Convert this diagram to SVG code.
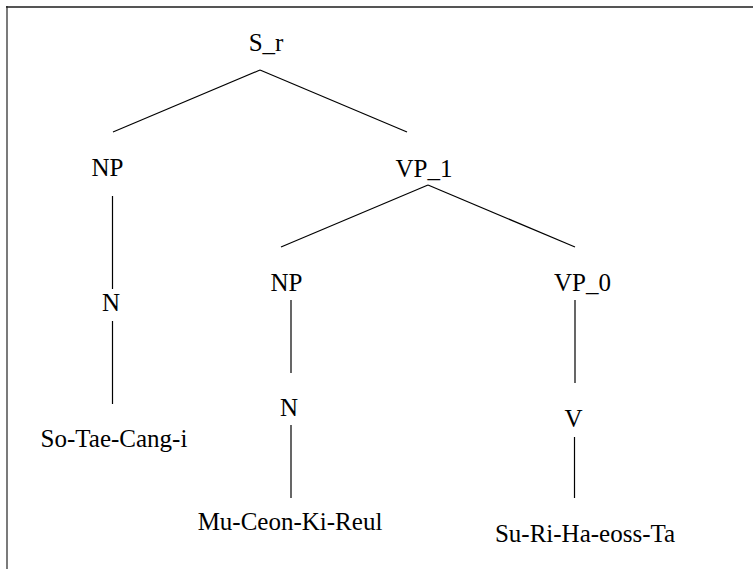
<svg xmlns="http://www.w3.org/2000/svg" width="753" height="569" viewBox="0 0 753 569">
  <style>
    .lbl { font-family: "Liberation Serif", "Times New Roman", serif; font-size: 25px; fill: #000; text-anchor: middle; }
    .edge { stroke: #000; stroke-width: 1.2; fill: none; }
    .frame { stroke: #555; fill: none; }
  </style>
  <rect width="753" height="569" fill="#fff"/>
  <g id="frame">
    <line class="frame" x1="6" y1="7" x2="753" y2="7" stroke-width="2"/>
    <line class="frame" x1="7" y1="6" x2="7" y2="569" stroke-width="1.2" style="stroke:#222"/>
  </g>
  <g id="connectors">
    <line class="edge" x1="260" y1="70" x2="113" y2="132"/>
    <line class="edge" x1="260" y1="70" x2="407" y2="132"/>
    <line class="edge" x1="112.5" y1="196" x2="112.5" y2="289"/>
    <line class="edge" x1="112.5" y1="321" x2="112.5" y2="404"/>
    <line class="edge" x1="428" y1="185" x2="281" y2="247"/>
    <line class="edge" x1="428" y1="185" x2="575" y2="247"/>
    <line class="edge" x1="291" y1="300" x2="291" y2="373"/>
    <line class="edge" x1="291" y1="425" x2="291" y2="498"/>
    <line class="edge" x1="575" y1="300" x2="575" y2="383"/>
    <line class="edge" x1="574.5" y1="437" x2="574.5" y2="498"/>
  </g>
  <g id="node-S_r"><text class="lbl" x="266" y="51">S_r</text></g>
  <g id="node-NP-subj"><text class="lbl" x="107.5" y="176">NP</text></g>
  <g id="node-VP_1"><text class="lbl" x="424" y="177">VP_1</text></g>
  <g id="node-N-subj"><text class="lbl" x="111" y="311">N</text></g>
  <g id="node-So-Tae-Cang-i"><text class="lbl" x="114" y="447">So-Tae-Cang-i</text></g>
  <g id="node-NP-obj"><text class="lbl" x="286.5" y="291">NP</text></g>
  <g id="node-VP_0"><text class="lbl" x="582.5" y="291">VP_0</text></g>
  <g id="node-N-obj"><text class="lbl" x="289" y="416">N</text></g>
  <g id="node-Mu-Ceon-Ki-Reul"><text class="lbl" x="290" y="530">Mu-Ceon-Ki-Reul</text></g>
  <g id="node-V"><text class="lbl" x="573.5" y="427">V</text></g>
  <g id="node-Su-Ri-Ha-eoss-Ta"><text class="lbl" x="585" y="542">Su-Ri-Ha-eoss-Ta</text></g>
</svg>
